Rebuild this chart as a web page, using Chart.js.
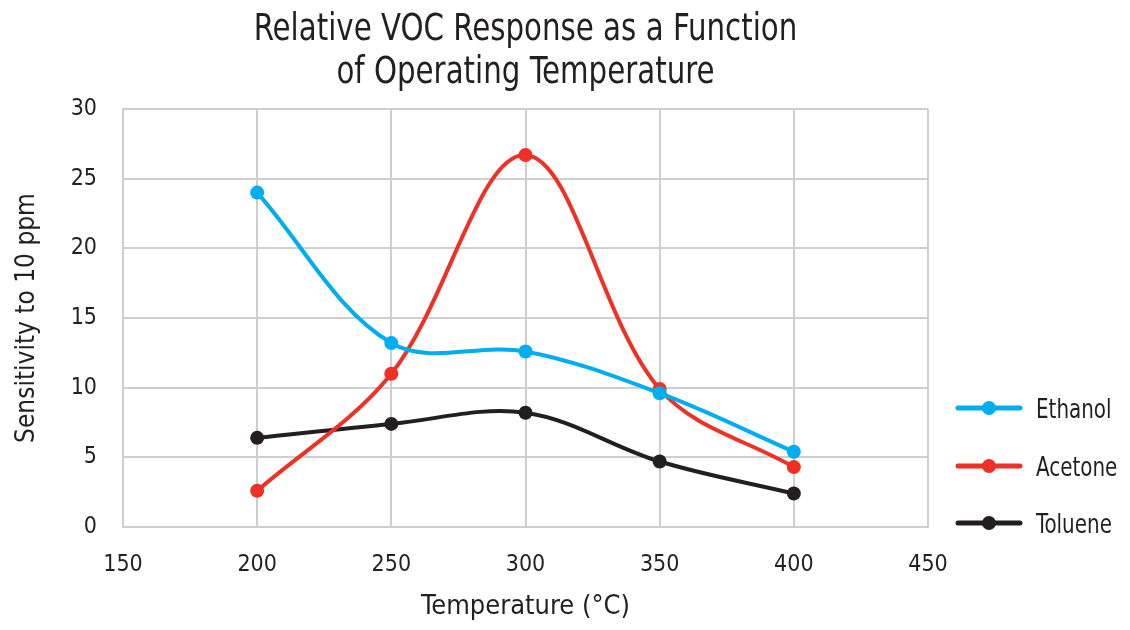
<!DOCTYPE html>
<html>
<head>
<meta charset="utf-8">
<script src="https://cdn.jsdelivr.net/npm/chart.js@4.4.1/dist/chart.umd.min.js"></script>
<style>
  html, body { margin: 0; padding: 0; background: #fff; }
  #wrap { width: 1130px; height: 630px; position: relative; }
</style>
</head>
<body>
<div id="wrap"><canvas id="vocChart"></canvas></div>
<script>
  // temperaturas (°C) y sensibilidad
  const temps = [200, 250, 300, 350, 400];
  const ethanol = [24.0, 13.2, 12.6, 9.6, 5.4];
  const acetone = [2.6, 11.0, 26.7, 9.9, 4.3];
  const toluene = [6.4, 7.4, 8.2, 4.7, 2.4];
  const seriesNames = ['Ethanol', 'Acetone', 'Toluene'];
  const seriesColors = ['#00aeef', '#ee3124', '#231f20'];
  const titleLines = ['Relative VOC Response as a Function', 'of Operating Temperature'];

  const FONT = '"DejaVu Sans Condensed", "Liberation Sans Narrow", sans-serif';
  const INK = '#231f20';
  const toPoints = vals => temps.map((t, i) => ({ x: t, y: vals[i] }));

  // texto estrecho (la fuente original es condensada)
  function narrowText(ctx, text, x, y, size, sx, align) {
    ctx.save();
    ctx.font = size + 'px ' + FONT;
    ctx.fillStyle = INK;
    ctx.textAlign = align;
    ctx.textBaseline = 'alphabetic';
    ctx.translate(x, y);
    ctx.scale(sx, 1);
    ctx.fillText(text, 0, 0);
    ctx.restore();
  }

  const datasets = [ethanol, acetone, toluene].map((vals, i) => ({
    label: seriesNames[i],
    data: toPoints(vals),
    borderColor: seriesColors[i],
    backgroundColor: seriesColors[i],
    borderWidth: 4,
    pointRadius: 7,
    pointHoverRadius: 7,
    pointBorderWidth: 0,
    tension: 0.35
  }));

  const titleAndLegend = {
    id: 'titleAndLegend',
    afterDraw(chart) {
      const ctx = chart.ctx;
      const cx = (chart.chartArea.left + chart.chartArea.right) / 2;
      narrowText(ctx, titleLines[0], cx, 40, 37, 0.88, 'center');
      narrowText(ctx, titleLines[1], cx, 83, 37, 0.88, 'center');

      const ys = [408, 466, 523];
      chart.data.datasets.forEach((ds, i) => {
        const y = ys[i];
        ctx.save();
        ctx.strokeStyle = ds.borderColor;
        ctx.lineWidth = 5;
        ctx.lineCap = 'round';
        ctx.beginPath();
        ctx.moveTo(958, y);
        ctx.lineTo(1020, y);
        ctx.stroke();
        ctx.fillStyle = ds.borderColor;
        ctx.beginPath();
        ctx.arc(989, y, 7, 0, Math.PI * 2);
        ctx.fill();
        ctx.restore();
        narrowText(ctx, ds.label, 1036, y + 10, 27, 0.82, 'left');
      });
    }
  };

  new Chart(document.getElementById('vocChart'), {
    type: 'line',
    data: { datasets },
    plugins: [titleAndLegend],
    options: {
      responsive: true,
      maintainAspectRatio: false,
      animation: false,
      layout: { padding: { left: 0, right: 202, top: 109, bottom: 0 } },
      plugins: {
        legend: { display: false },
        tooltip: { enabled: false },
        title: { display: false }
      },
      scales: {
        x: {
          type: 'linear',
          min: 150, max: 450,
          afterFit: s => { s.height = 103; },
          ticks: { stepSize: 50, color: INK, padding: 24, font: { family: FONT, size: 23 } },
          grid: { color: '#cfcfcf', lineWidth: 2, drawTicks: false },
          border: { color: '#cfcfcf', width: 2 },
          title: { display: true, text: 'Temperature (°C)', color: INK, font: { family: FONT, size: 27 }, padding: { top: 0, bottom: 7 } }
        },
        y: {
          min: 0, max: 30,
          afterFit: s => { s.width = 123; },
          ticks: { stepSize: 5, color: INK, padding: 26, font: { family: FONT, size: 23 } },
          grid: { color: '#cfcfcf', lineWidth: 2, drawTicks: false },
          border: { color: '#cfcfcf', width: 2 },
          title: { display: true, text: 'Sensitivity to 10 ppm', color: INK, font: { family: FONT, size: 26 }, padding: { top: 12, bottom: 0 } }
        }
      }
    }
  });
</script>
</body>
</html>
